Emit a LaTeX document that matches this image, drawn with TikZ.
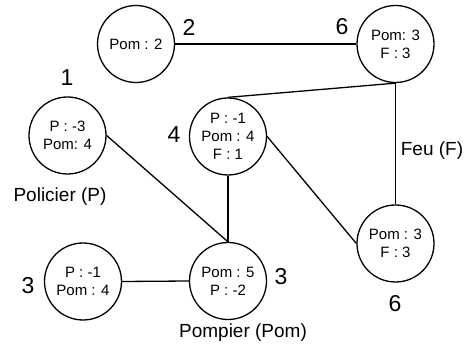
\documentclass[tikz,border=0pt]{standalone}
\usepackage{fontspec}
\setmainfont{Liberation Sans}
\begin{document}
\begin{tikzpicture}[x=1pt,y=-1pt,
  st/.style={draw,circle,line width=1.3pt,minimum size=77pt,inner sep=0pt,align=center,font=\fontsize{15}{18}\selectfont},
  num/.style={font=\fontsize{23}{26}\selectfont,inner sep=0pt},
  lab/.style={font=\fontsize{19}{22}\selectfont,inner sep=0pt},
  conn/.style={draw,line width=1.3pt}]
\useasboundingbox (0,0) rectangle (466,347);
\node[st] (A) at (136,44) {Pom : 2};
\node[st] (B) at (395.5,44) {Pom: 3\\F : 3};
\node[st] (C) at (67.5,135.5) {P : -3\\Pom: 4};
\node[st] (D) at (228,136.5) {P : -1\\Pom : 4\\F : 1};
\node[st] (E) at (395.5,243.5) {Pom : 3\\F : 3};
\node[st] (F) at (83,281.5) {P : -1\\Pom : 4};
\node[st] (G) at (228,281) {Pom : 5\\P : -2};
\path[conn] (A.east) -- (B.west);
\path[conn] (B.south) -- (D.north);
\path[conn] (B.south) -- (E.north);
\path[conn] (C.east) -- (G.north);
\path[conn] (D.south) -- (G.north);
\path[conn] (D.east) -- (E.west);
\path[conn] (F.east) -- (G.west);
\node[num] (n2) at (189,27) {2};
\node[num] (n6a) at (342,27) {6};
\node[num] (n1) at (67,78) {1};
\node[num] (n4) at (174,135) {4};
\node[num] (n3a) at (28,286) {3};
\node[num] (n3b) at (281,277) {3};
\node[num] (n6b) at (395,304) {6};
\node[lab] (pol) at (60,197) {Policier (P)};
\node[lab] (feu) at (432,151) {Feu (F)};
\node[lab] (pom) at (243,333) {Pompier (Pom)};
\end{tikzpicture}
\end{document}
